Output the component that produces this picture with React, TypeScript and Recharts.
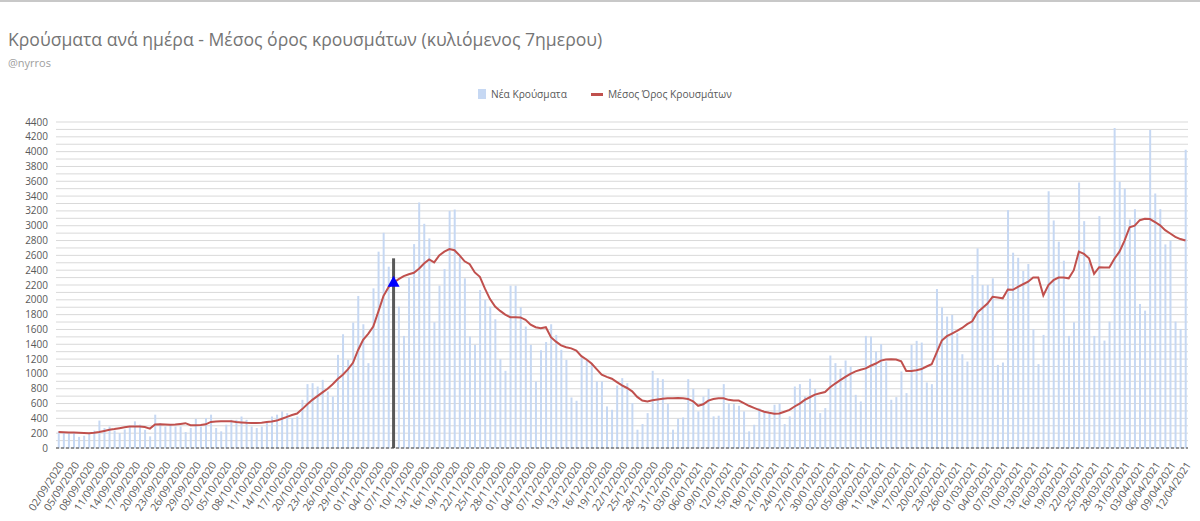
import React from 'react';
import { ComposedChart, Bar, Line, XAxis, YAxis, CartesianGrid, ReferenceLine, ReferenceDot } from 'recharts';

const dates = [
'02/09/2020','03/09/2020','04/09/2020','05/09/2020','06/09/2020','07/09/2020','08/09/2020','09/09/2020','10/09/2020','11/09/2020','12/09/2020','13/09/2020','14/09/2020','15/09/2020','16/09/2020','17/09/2020','18/09/2020','19/09/2020','20/09/2020','21/09/2020','22/09/2020','23/09/2020','24/09/2020','25/09/2020','26/09/2020','27/09/2020','28/09/2020','29/09/2020','30/09/2020',
'01/10/2020','02/10/2020','03/10/2020','04/10/2020','05/10/2020','06/10/2020','07/10/2020','08/10/2020','09/10/2020','10/10/2020','11/10/2020','12/10/2020','13/10/2020','14/10/2020','15/10/2020','16/10/2020','17/10/2020','18/10/2020','19/10/2020','20/10/2020','21/10/2020','22/10/2020','23/10/2020','24/10/2020','25/10/2020','26/10/2020','27/10/2020','28/10/2020','29/10/2020','30/10/2020','31/10/2020',
'01/11/2020','02/11/2020','03/11/2020','04/11/2020','05/11/2020','06/11/2020','07/11/2020','08/11/2020','09/11/2020','10/11/2020','11/11/2020','12/11/2020','13/11/2020','14/11/2020','15/11/2020','16/11/2020','17/11/2020','18/11/2020','19/11/2020','20/11/2020','21/11/2020','22/11/2020','23/11/2020','24/11/2020','25/11/2020','26/11/2020','27/11/2020','28/11/2020','29/11/2020','30/11/2020',
'01/12/2020','02/12/2020','03/12/2020','04/12/2020','05/12/2020','06/12/2020','07/12/2020','08/12/2020','09/12/2020','10/12/2020','11/12/2020','12/12/2020','13/12/2020','14/12/2020','15/12/2020','16/12/2020','17/12/2020','18/12/2020','19/12/2020','20/12/2020','21/12/2020','22/12/2020','23/12/2020','24/12/2020','25/12/2020','26/12/2020','27/12/2020','28/12/2020','29/12/2020','30/12/2020','31/12/2020',
'01/01/2021','02/01/2021','03/01/2021','04/01/2021','05/01/2021','06/01/2021','07/01/2021','08/01/2021','09/01/2021','10/01/2021','11/01/2021','12/01/2021','13/01/2021','14/01/2021','15/01/2021','16/01/2021','17/01/2021','18/01/2021','19/01/2021','20/01/2021','21/01/2021','22/01/2021','23/01/2021','24/01/2021','25/01/2021','26/01/2021','27/01/2021','28/01/2021','29/01/2021','30/01/2021','31/01/2021',
'01/02/2021','02/02/2021','03/02/2021','04/02/2021','05/02/2021','06/02/2021','07/02/2021','08/02/2021','09/02/2021','10/02/2021','11/02/2021','12/02/2021','13/02/2021','14/02/2021','15/02/2021','16/02/2021','17/02/2021','18/02/2021','19/02/2021','20/02/2021','21/02/2021','22/02/2021','23/02/2021','24/02/2021','25/02/2021','26/02/2021','27/02/2021','28/02/2021',
'01/03/2021','02/03/2021','03/03/2021','04/03/2021','05/03/2021','06/03/2021','07/03/2021','08/03/2021','09/03/2021','10/03/2021','11/03/2021','12/03/2021','13/03/2021','14/03/2021','15/03/2021','16/03/2021','17/03/2021','18/03/2021','19/03/2021','20/03/2021','21/03/2021','22/03/2021','23/03/2021','24/03/2021','25/03/2021','26/03/2021','27/03/2021','28/03/2021','29/03/2021','30/03/2021','31/03/2021',
'01/04/2021','02/04/2021','03/04/2021','04/04/2021','05/04/2021','06/04/2021','07/04/2021','08/04/2021','09/04/2021','10/04/2021','11/04/2021','12/04/2021'
];

const newCases = [
225, 210, 200, 210, 150, 165, 200, 235, 370, 270, 290, 235, 200, 250,
290, 360, 315, 245, 157, 450, 337, 290, 315, 290, 290, 215, 270, 395, 290, 405, 450, 270, 225, 315, 380,
380, 425, 380, 290, 270, 290, 360, 425, 450, 495, 470, 405, 425, 650, 862, 875, 830, 920, 763, 696, 1257,
1535, 1190, 1693, 2052, 1670, 1145, 2155, 2650, 2905, 2447, 2400, 1908, 1513, 2300, 2752, 3314, 3026, 2829, 1697, 2191, 2416,
3201, 3219, 2582, 2290, 1504, 1392, 2133, 2000, 1908, 1738, 1199, 1042, 2191, 2191, 1899, 1639, 1392, 898, 1320, 1430,
1670, 1527, 1325, 1190, 682, 638, 1221, 1181, 1145, 898, 898, 561, 516, 844, 943, 875, 606, 247, 323, 471, 1042,
943, 929, 593, 247, 395, 413, 929, 799, 494, 696, 799, 427, 436, 862, 593, 593, 570, 494, 225, 314,
539, 480, 480, 584, 597, 323, 427, 830, 862, 696, 934, 799, 471, 539, 1248, 1145, 1069, 1181, 1100, 718, 628,
1513, 1504, 1302, 1401, 1167, 651, 687, 1033, 741, 1392, 1446, 1423, 885, 862, 2146, 1899, 1774, 1796, 1549, 1266, 1167,
2335, 2694, 2200, 2200, 2290, 1122, 1154, 3210, 2636, 2568, 2389, 2483, 1603, 1132, 1527, 3466, 3071, 2784, 2528, 1513, 1697,
3583, 3062, 2502, 1513, 3130, 1450, 1706, 4319, 3592, 3502, 3085, 3224, 1944, 1854, 4292, 3435, 3224, 2748, 2797, 1706, 1607, 4027
];

const movingAverage = [
215, 213, 210, 208, 205, 202, 200, 205, 215, 230, 245, 255, 268, 280, 290,
290, 290, 282, 262, 318, 322, 318, 314, 316, 325, 335, 308, 308, 312, 320, 352, 358, 360, 362, 360,
350, 345, 340, 338, 338, 342, 350, 358, 370, 395, 420, 445, 465, 525, 590, 650, 700, 750, 800, 860, 930,
990, 1060, 1150, 1320, 1460, 1540, 1640, 1840, 2050, 2170, 2230, 2280, 2320, 2345, 2365, 2420, 2490, 2545, 2505, 2600, 2650,
2685, 2670, 2600, 2520, 2480, 2370, 2310, 2150, 2010, 1910, 1850, 1800, 1765, 1765, 1762, 1730, 1665, 1630, 1615, 1630,
1495, 1435, 1385, 1360, 1345, 1315, 1240, 1195, 1140, 1065, 990, 960, 935, 890, 845, 810, 765, 690, 640, 628, 645,
655, 665, 670, 672, 674, 672, 662, 630, 570, 590, 640, 662, 672, 672, 650, 642, 640, 605, 570, 542,
515, 490, 475, 463, 465, 490, 515, 560, 600, 650, 685, 720, 740, 755, 820, 870, 915, 960, 1000, 1035, 1055,
1075, 1110, 1140, 1180, 1195, 1199, 1195, 1170, 1040, 1040, 1050, 1065, 1100, 1130, 1290, 1450, 1510, 1545, 1580, 1620, 1672,
1710, 1830, 1890, 1950, 2040, 2030, 2020, 2140, 2135, 2175, 2210, 2245, 2300, 2300, 2060, 2200, 2265, 2300, 2300, 2290, 2400,
2650, 2620, 2560, 2350, 2440, 2435, 2435, 2555, 2650, 2800, 2980, 3000, 3075, 3095, 3090, 3050, 3005, 2940, 2895, 2850, 2820, 2800
];

const yTicks = [0, 100, 200, 300, 400, 500, 600, 700, 800, 900, 1000, 1100, 1200, 1300, 1400, 1500, 1600, 1700, 1800, 1900, 2000, 2100, 2200, 2300, 2400, 2500, 2600, 2700, 2800, 2900, 3000, 3100, 3200, 3300, 3400, 3500, 3600, 3700, 3800, 3900, 4000, 4100, 4200, 4300, 4400];

const markerDate = '07/11/2020';
const markerTop = 2560;

const seriesNames = ['Νέα Κρούσματα', 'Μέσος Όρος Κρουσμάτων'];
const titleText = 'Κρούσματα ανά ημέρα - Μέσος όρος κρουσμάτων (κυλιόμενος 7ημερου)';
const subtitleText = '@nyrros';

const BAR_COLOR = '#c6d8f3';
const LINE_COLOR = '#c0504d';
const TEXT_COLOR = '#595959';
const FONT = '"Open Sans", "Noto Sans", sans-serif';

const data = dates.map((d, i) => ({ date: d, cases: newCases[i], avg: movingAverage[i] }));
const markerAvg = movingAverage[dates.indexOf(markerDate)];

const XTick = (props: any) => {
  const { x, y, payload } = props;
  return (
    <g transform={`translate(${x + 6},${y + 9}) rotate(-57)`}>
      <text x={0} y={0} textAnchor="end" fill={TEXT_COLOR} fontSize={10.5} fontFamily={FONT}>{payload.value}</text>
    </g>
  );
};

const Triangle = (props: any) => {
  const { cx, cy } = props;
  if (cx == null || cy == null) return null;
  return <path d={`M${cx},${cy - 7} L${cx + 6},${cy + 4} L${cx - 6},${cy + 4} Z`} fill="#0000ff" />;
};

export default function App() {
  return (
    <div style={{ position: 'relative', width: 1200, height: 521, background: '#fff', fontFamily: FONT, overflow: 'hidden' }}>
      <style>{'body{margin:0}'}</style>
      <div style={{ position: 'absolute', left: 0, top: 0, width: 1200, height: 2, background: '#c8c8c8' }} />
      <div style={{ position: 'absolute', left: 8, top: 27, fontSize: 17.6, color: '#757575', whiteSpace: 'nowrap' }}>{titleText}</div>
      <div style={{ position: 'absolute', left: 8, top: 55, fontSize: 11, color: '#9e9e9e' }}>{subtitleText}</div>
      <div style={{ position: 'absolute', left: 478, top: 87, display: 'flex', alignItems: 'center', fontSize: 10.2, color: TEXT_COLOR, whiteSpace: 'nowrap' }}>
        <span style={{ display: 'inline-block', width: 8, height: 10, background: BAR_COLOR, marginRight: 5 }} />
        <span>{seriesNames[0]}</span>
        <span style={{ display: 'inline-block', width: 12, height: 3, background: LINE_COLOR, marginLeft: 24, marginRight: 5 }} />
        <span>{seriesNames[1]}</span>
      </div>
      <div style={{ position: 'absolute', left: 0, top: 0 }}>
        <ComposedChart width={1200} height={521} data={data} margin={{ top: 122, right: 12, bottom: 3, left: 6 }} barCategoryGap="35%">
          <CartesianGrid vertical={false} stroke="#d9d9d9" />
          <XAxis dataKey="date" interval={2} height={70} tickLine={false} axisLine={{ stroke: '#404040', strokeDasharray: '3 2' }} tick={<XTick />} />
          <YAxis width={50} domain={[0, 4400]} ticks={yTicks} interval={0} tickLine={false} axisLine={false}
            tickFormatter={(v: number) => (v % 200 === 0 ? String(v) : '')}
            tick={{ fill: TEXT_COLOR, fontSize: 10, fontFamily: FONT }} />
          <Bar dataKey="cases" name={seriesNames[0]} fill={BAR_COLOR} isAnimationActive={false} />
          <ReferenceLine segment={[{ x: markerDate, y: 0 }, { x: markerDate, y: markerTop }]} stroke="#595959" strokeWidth={3} />
          <Line dataKey="avg" name={seriesNames[1]} stroke={LINE_COLOR} strokeWidth={2} dot={false} type="linear" isAnimationActive={false} />
          <ReferenceDot x={markerDate} y={markerAvg} r={6} shape={<Triangle />} />
        </ComposedChart>
      </div>
    </div>
  );
}
